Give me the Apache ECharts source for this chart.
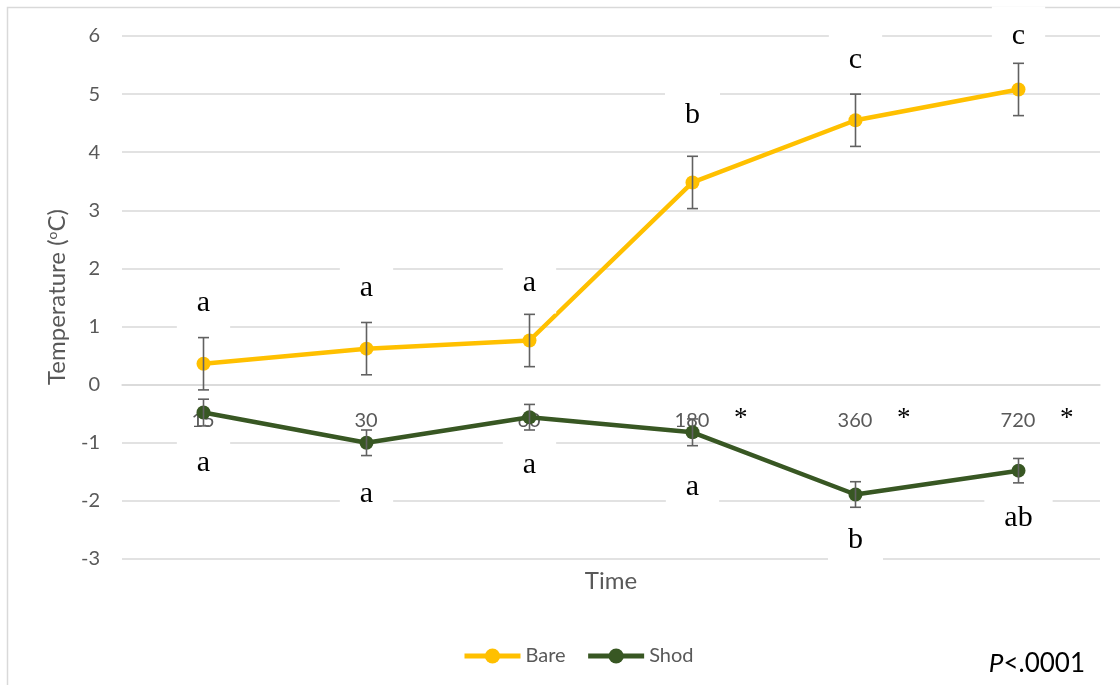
<!DOCTYPE html>
<html>
<head>
<meta charset="utf-8">
<style>
  html, body { margin: 0; padding: 0; background: #fff; }
  #chart { width: 1120px; height: 685px; }
</style>
<script src="https://cdn.jsdelivr.net/npm/echarts@6/dist/echarts.min.js"></script>
</head>
<body>
<div id="chart"></div>
<script>
// ---- data ----
const categories = ['15', '30', '60', '180', '360', '720'];
const bare = [0.36, 0.62, 0.76, 3.48, 4.55, 5.08];
const bareErr = [0.45, 0.45, 0.45, 0.45, 0.45, 0.45];
const shod = [-0.48, -1.0, -0.56, -0.82, -1.89, -1.48];
const shodErr = [0.23, 0.22, 0.22, 0.23, 0.22, 0.21];
const bareLetters = ['a', 'a', 'a', 'b', 'c', 'c'];
const shodLetters = ['a', 'a', 'a', 'a', 'b', 'ab'];
const significance = ['', '', '', '*', '*', '*'];
const yTicks = [-3, -2, -1, 0, 1, 2, 3, 4, 5, 6];

// ---- layout / style ----
const bareLabelDist = [24, 24, 20, 30, 23, 16];
const shodLabelDist = [14, 14, 11, 18, 9, 10];
const GRAY = '#595959';
const GRID = '#D9D9D9';
const BARE_C = '#FFC000';
const SHOD_C = '#385723';
const SANS = 'Lato, "Open Sans", sans-serif';
const SERIF = '"Liberation Serif", "DejaVu Serif", serif';
const GRID_TOP = 36, GRID_BOTTOM = 126, CHART_H = 685;

function letterData(vals, letters, dist, pos) {
  return vals.map((v, i) => ({
    value: v,
    label: {
      show: true,
      position: pos,
      distance: dist[i],
      formatter: letters[i],
      fontFamily: SERIF,
      fontSize: 30,
      color: '#000',
      backgroundColor: '#fff',
      padding: [15, 20],
      lineHeight: 30
    }
  }));
}

function errData(vals, errs) {
  return vals.map((v, i) => [i, v - errs[i], v + errs[i]]);
}

function renderErr(params, api) {
  const lo = api.coord([api.value(0), api.value(1)]);
  const hi = api.coord([api.value(0), api.value(2)]);
  const w = 5.5;
  const style = { stroke: '#616161', lineWidth: 1.6 };
  return {
    type: 'group',
    children: [
      { type: 'line', shape: { x1: lo[0], y1: lo[1], x2: hi[0], y2: hi[1] }, style },
      { type: 'line', shape: { x1: lo[0] - w, y1: lo[1], x2: lo[0] + w, y2: lo[1] }, style },
      { type: 'line', shape: { x1: hi[0] - w, y1: hi[1], x2: hi[0] + w, y2: hi[1] }, style }
    ]
  };
}

// offset that moves the category axis up to y = 0
const yMin = yTicks[0], yMax = yTicks[yTicks.length - 1];
const plotH = CHART_H - GRID_TOP - GRID_BOTTOM;
const zeroOffset = -plotH * (0 - yMin) / (yMax - yMin);

const chart = echarts.init(document.getElementById('chart'), null, { renderer: 'canvas' });

const option = {
  backgroundColor: '#fff',
  animation: false,
  textStyle: { fontFamily: SANS },
  grid: { left: 122, right: 20, top: GRID_TOP, bottom: GRID_BOTTOM, containLabel: false },
  legend: {
    data: ['Bare', 'Shod'],
    left: 457,
    top: 641,
    itemWidth: 56,
    itemHeight: 19,
    itemGap: 20,
    lineStyle: { width: 5 },
    textStyle: { color: GRAY, fontSize: 20, fontFamily: SANS }
  },
  xAxis: {
    type: 'category',
    data: categories,
    boundaryGap: true,
    offset: zeroOffset,
    axisLine: { show: true, onZero: false, lineStyle: { color: GRID, width: 1.5 } },
    axisTick: { show: false },
    splitLine: { show: false },
    axisLabel: {
      margin: 21,
      interval: 0,
      formatter: (v, i) => '{p|\u00a0}{v|' + v + '}{s|' + (significance[i] || '\u00a0') + '}',
      rich: {
        p: { width: 37 },
        v: { fontSize: 20, color: GRAY, fontFamily: SANS },
        s: { width: 38, align: 'right', fontSize: 27, color: '#000', fontFamily: SERIF, padding: [0, 0, 3, 0] }
      }
    }
  },
  yAxis: {
    type: 'value',
    min: yMin,
    max: yMax,
    interval: 1,
    axisLine: { show: false },
    axisTick: { show: false },
    axisLabel: { color: GRAY, fontSize: 20, margin: 22, fontFamily: SANS },
    splitLine: { lineStyle: { color: GRID, width: 1.5 } }
  },
  graphic: [
    {
      type: 'rect', z: -10, silent: true,
      shape: { x: 7.5, y: 7.5, width: 1300, height: 900 },
      style: { fill: 'none', stroke: GRID, lineWidth: 1.5 }
    },
    {
      type: 'text', x: 57, y: 297, rotation: Math.PI / 2,
      style: {
        text: '{a|Temperature (}{s|o}{a|C)}',
        align: 'center', verticalAlign: 'middle',
        rich: {
          a: { fontSize: 24, fill: GRAY, fontFamily: SANS },
          s: { fontSize: 14, fill: GRAY, fontFamily: SANS, padding: [0, 0, 10, 0] }
        }
      }
    },
    {
      type: 'text', x: 611, y: 581,
      style: { text: 'Time', fontSize: 24, fill: GRAY, fontFamily: SANS, align: 'center', verticalAlign: 'middle' }
    },
    {
      type: 'text', x: 1085, y: 664,
      style: {
        text: '{i|P}{n|<.0001}',
        align: 'right', verticalAlign: 'middle',
        rich: {
          i: { fontSize: 26, fontStyle: 'italic', fill: '#000', fontFamily: SANS },
          n: { fontSize: 26, fill: '#000', fontFamily: SANS }
        }
      }
    }
  ],
  series: [
    {
      name: 'Bare',
      type: 'line',
      data: letterData(bare, bareLetters, bareLabelDist, 'top'),
      symbol: 'circle',
      symbolSize: 14,
      itemStyle: { color: BARE_C },
      lineStyle: { color: BARE_C, width: 4.5 },
      z: 2
    },
    {
      name: 'Shod',
      type: 'line',
      data: letterData(shod, shodLetters, shodLabelDist, 'bottom'),
      symbol: 'circle',
      symbolSize: 14,
      itemStyle: { color: SHOD_C },
      lineStyle: { color: SHOD_C, width: 4.5 },
      z: 2
    },
    {
      name: 'BareErr',
      type: 'custom',
      data: errData(bare, bareErr),
      renderItem: renderErr,
      encode: { x: 0, y: [1, 2] },
      z: 3,
      silent: true
    },
    {
      name: 'ShodErr',
      type: 'custom',
      data: errData(shod, shodErr),
      renderItem: renderErr,
      encode: { x: 0, y: [1, 2] },
      z: 3,
      silent: true
    }
  ]
};

chart.setOption(option);
</script>
</body>
</html>
